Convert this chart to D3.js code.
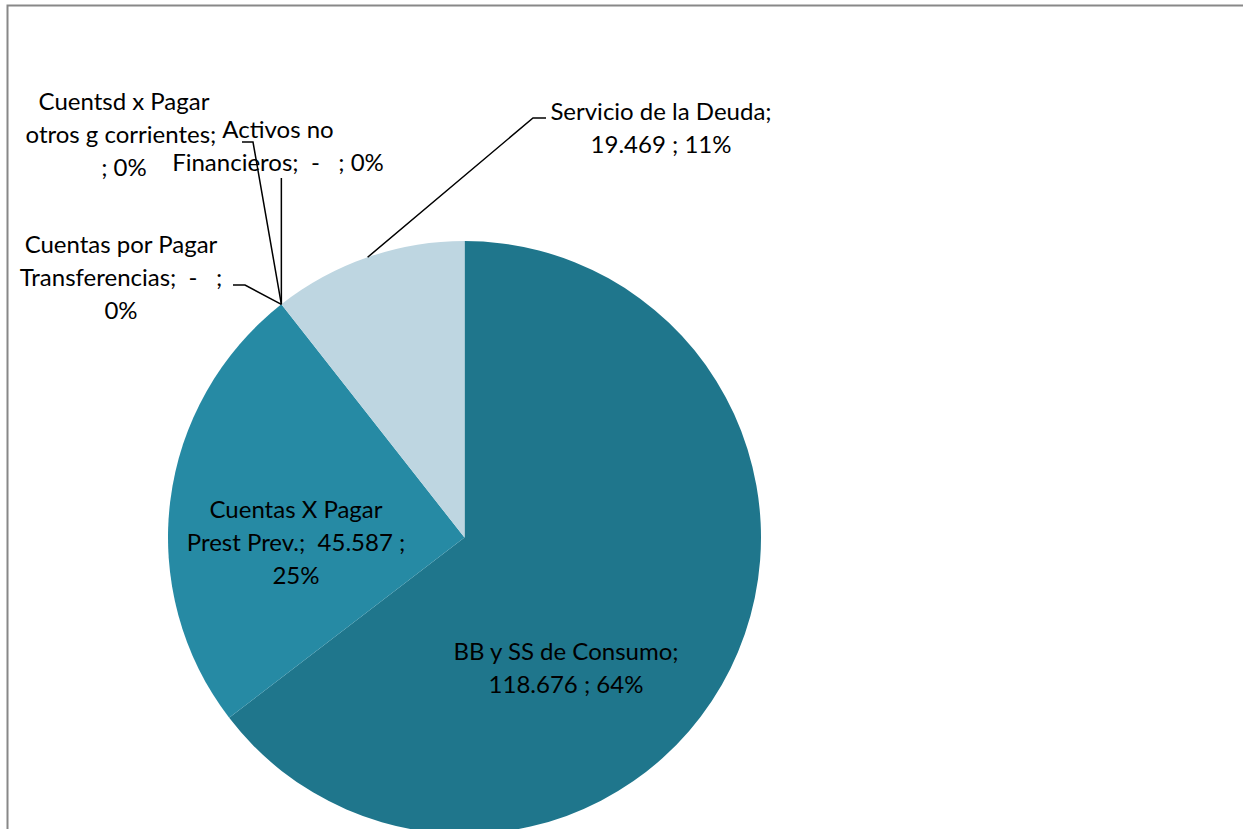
<!DOCTYPE html>
<html><head><meta charset="utf-8">
<script src="https://cdn.jsdelivr.net/npm/d3@7"></script>
<style>
body{margin:0;background:#fff;overflow:hidden}
svg{display:block}
text{font-family:Lato,"Open Sans",sans-serif;fill:#000}
</style>
</head><body><svg id="c" width="1243" height="829"></svg>
<script>
// ---- data ----
const categories = ["BB y SS de Consumo","Cuentas X Pagar Prest Prev.","Cuentas por Pagar Transferencias","Cuentsd x Pagar otros g corrientes","Activos no Financieros","Servicio de la Deuda"];
const values = [118676, 45587, 0, 0, 0, 19469];
const colors = ["#1f768c","#268aa4","#268aa4","#268aa4","#268aa4","#bed6e1"];
// label text, {v} = value, {p} = percent
const labelTemplates = [
  ["BB y SS de Consumo;", "{v} ; {p}"],
  ["Cuentas X Pagar", "Prest Prev.;  {v} ;", "{p}"],
  ["Cuentas por Pagar", "Transferencias;  {v} ;", "{p}"],
  ["Cuentsd x Pagar", "otros g corrientes; ", "; {p}"],
  ["Activos no", "Financieros;  {v} ; {p}"],
  ["Servicio de la Deuda;", "{v} ; {p}"]
];

// ---- layout (positions, not data) ----
const W = 1243, H = 829;
const cx = 464.5, cy = 537.5, R = 296.5;
const fontSize = 24, lineH = 33;
const labelPos = [
  {x:566, y:652, lead:null},
  {x:296, y:510, lead:null},
  {x:121, y:245, lead:[[233,285],[245,285]]},
  {x:124, y:102, lead:[[242,142],[253,142]]},
  {x:278, y:130, lead:"vertical", top:178},
  {x:661, y:112, lead:[[546,118],[533,118]]}
];

const svg = d3.select("#c");
svg.append("rect").attr("x",7.5).attr("y",5.5).attr("width",1240).attr("height",900)
  .attr("fill","#fff").attr("stroke","#888").attr("stroke-width",2);

const loc = d3.formatLocale({decimal:",", thousands:".", grouping:[3], currency:["$",""]});
const fmt = v => v === 0 ? "-  " : loc.format(",.0f")(v);
const total = d3.sum(values);

// percentages rounded so they sum to 100 (largest remainder)
const raw = values.map(v => v/total*100);
const pcts = raw.map(Math.floor);
let rest = 100 - d3.sum(pcts);
raw.map((r,i)=>({i, f:r-Math.floor(r)})).sort((a,b)=>b.f-a.f).forEach(o=>{ if(rest>0){pcts[o.i]++; rest--;} });

const pie = d3.pie().sort(null).value(d => d.value);
const data = categories.map((c,i)=>({name:c, value:values[i], pct:pcts[i], color:colors[i], tmpl:labelTemplates[i], pos:labelPos[i]}));
const arcs = pie(data);
const arc = d3.arc().innerRadius(0).outerRadius(R);

const g = svg.append("g").attr("transform",`translate(${cx},${cy})`);
g.selectAll("path.slice").data(arcs.filter(a=>a.data.value>0)).join("path")
  .attr("class","slice").attr("d",arc).attr("fill",d=>d.data.color);

// leader lines
const line = d3.line();
arcs.forEach(a => {
  const p = a.data.pos;
  if (!p.lead) return;
  const mid = (a.startAngle + a.endAngle)/2;
  const px = cx + R*Math.sin(mid), py = cy - R*Math.cos(mid);
  let pts;
  if (p.lead === "vertical") pts = [[px, p.top],[px, py]];
  else pts = [...p.lead, [px, py]];
  svg.append("path").attr("d", line(pts)).attr("fill","none").attr("stroke","#000").attr("stroke-width",1.5);
});

// labels
arcs.forEach(a => {
  const d = a.data, p = d.pos;
  const pct = d.pct + "%";
  const t = svg.append("text").attr("text-anchor","middle").attr("font-size",fontSize).style("white-space","pre");
  d.tmpl.forEach((s,i) => {
    const txt = s.replace("{v}", fmt(d.value)).replace("{p}", pct);
    t.append("tspan").attr("x",p.x).attr("y",p.y + i*lineH + fontSize*0.35).text(txt);
  });
});
</script>
</body></html>
